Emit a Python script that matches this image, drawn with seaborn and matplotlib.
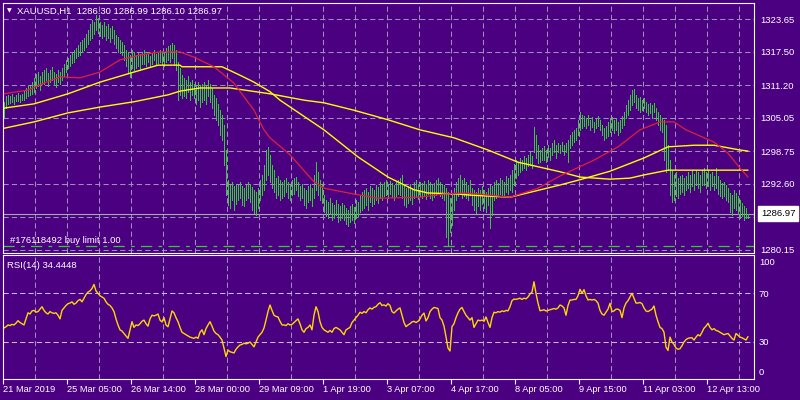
import matplotlib
matplotlib.use("Agg")
import matplotlib.pyplot as plt
import numpy as np
import pandas as pd
import seaborn as sns

# ---------------- data ----------------
bar_high = [
    1308.1,1309.2,1309.4,1309.2,1309.6,1309.0,1309.4,1309.8,1309.4,1309.6,
    1310.3,1310.7,1311.3,1311.1,1311.8,1312.6,1313.3,1313.7,1313.0,1313.7,
    1314.1,1314.5,1313.5,1314.1,1314.7,1313.7,1313.3,1314.1,1313.7,1314.5,
    1315.2,1316.0,1316.4,1316.9,1317.5,1317.9,1318.2,1318.8,1319.4,1319.7,
    1320.1,1320.9,1321.6,1322.8,1323.5,1323.1,1324.5,1323.9,1323.1,1322.6,
    1323.1,1322.4,1322.8,1322.0,1322.4,1321.6,1320.7,1320.3,1319.7,1319.4,
    1318.8,1317.9,1317.5,1316.9,1317.9,1317.5,1316.9,1317.3,1317.1,1317.5,
    1317.9,1317.1,1317.5,1316.7,1317.3,1317.9,1317.1,1317.5,1317.9,1317.3,
    1317.5,1318.2,1318.6,1318.8,1319.2,1318.8,1317.9,1315.6,1314.5,1313.1,
    1312.6,1312.2,1313.0,1311.8,1312.2,1311.5,1311.1,1311.8,1311.3,1311.5,
    1311.8,1311.1,1312.2,1311.5,1310.7,1309.4,1308.8,1307.7,1306.5,1305.6,
    1303.7,1299.0,1293.4,1292.4,1293.0,1292.2,1292.6,1292.4,1293.0,1292.2,
    1291.8,1292.4,1293.0,1292.6,1292.0,1291.5,1291.1,1291.8,1293.4,1294.3,
    1296.2,1299.0,1299.6,1298.1,1296.2,1295.2,1293.7,1294.1,1293.4,1293.0,
    1293.4,1293.7,1293.0,1292.4,1293.4,1293.7,1293.9,1293.0,1292.2,1292.6,
    1291.8,1291.5,1292.2,1292.6,1291.8,1294.3,1296.7,1294.9,1293.4,1292.4,
    1290.5,1289.6,1289.2,1289.9,1289.0,1288.6,1289.6,1288.8,1288.4,1289.0,
    1288.6,1288.1,1287.7,1288.4,1288.8,1288.3,1289.6,1289.2,1290.5,1291.1,
    1291.5,1291.8,1291.1,1292.2,1291.8,1291.5,1292.4,1292.0,1293.0,1292.6,
    1293.0,1293.4,1292.6,1293.2,1292.8,1292.4,1293.0,1293.4,1293.7,1294.3,
    1292.4,1291.8,1292.2,1292.6,1291.8,1293.0,1293.4,1292.6,1293.0,1292.8,
    1293.2,1292.6,1293.4,1293.0,1292.4,1292.8,1293.4,1293.7,1293.0,1292.6,
    1292.4,1291.8,1291.1,1289.9,1290.5,1291.8,1293.0,1293.7,1294.3,1293.4,
    1293.7,1293.0,1292.4,1293.4,1291.8,1291.5,1291.1,1291.8,1291.5,1292.2,
    1291.5,1291.1,1291.8,1292.4,1292.2,1293.0,1293.4,1292.8,1293.7,1293.4,
    1293.0,1294.1,1293.7,1294.3,1295.2,1296.4,1297.1,1296.7,1297.5,1297.1,
    1297.9,1297.5,1298.1,1298.6,1297.9,1303.3,1301.8,1299.9,1299.0,1299.4,
    1299.8,1299.0,1299.9,1299.4,1300.3,1300.9,1299.9,1300.3,1299.9,1300.5,
    1299.9,1300.3,1300.9,1301.8,1302.4,1302.8,1303.1,1304.7,1306.2,1305.6,
    1305.4,1305.0,1305.6,1304.7,1305.2,1304.3,1305.0,1305.4,1304.7,1303.7,
    1303.1,1303.5,1304.3,1305.0,1305.2,1304.7,1305.0,1304.3,1304.7,1305.4,
    1306.2,1307.5,1308.4,1309.4,1310.3,1310.5,1309.4,1308.8,1309.0,1308.4,
    1308.8,1308.1,1307.7,1307.9,1307.5,1307.9,1306.9,1306.2,1305.6,1305.0,
    1304.7,1303.7,1299.9,1297.1,1295.2,1294.3,1294.9,1293.7,1294.1,1294.3,
    1293.7,1294.1,1294.9,1294.3,1295.2,1294.5,1295.2,1294.9,1294.3,1295.2,
    1295.6,1294.9,1295.2,1294.5,1294.9,1294.1,1295.6,1294.1,1293.4,1292.8,
    1293.0,1292.4,1291.8,1290.9,1290.5,1291.5,1290.9,1290.3,1289.6,1289.0,
    1288.4,1288.1,1286.99,
]
bar_low = [
    1305.2,1306.9,1307.7,1307.9,1308.1,1307.7,1308.3,1308.3,1308.1,1308.4,
    1308.4,1308.8,1309.2,1309.4,1309.6,1310.0,1310.7,1311.1,1310.3,1311.5,
    1311.5,1312.2,1311.1,1311.8,1312.2,1311.3,1310.9,1311.8,1311.5,1312.2,
    1313.0,1313.7,1314.5,1314.8,1315.4,1315.6,1316.4,1316.7,1316.9,1317.5,
    1317.9,1318.4,1319.0,1319.7,1320.1,1320.9,1321.6,1321.1,1320.5,1320.1,
    1320.5,1319.7,1320.1,1319.4,1320.1,1319.0,1318.2,1317.5,1317.3,1316.9,
    1316.0,1314.8,1313.7,1312.8,1314.5,1314.1,1314.5,1314.8,1314.1,1315.2,
    1315.2,1314.8,1315.6,1314.7,1315.2,1316.0,1315.0,1315.4,1315.6,1315.2,
    1314.8,1315.6,1316.0,1315.6,1316.4,1315.2,1314.1,1308.4,1309.4,1308.8,
    1309.2,1308.8,1310.0,1308.4,1309.4,1308.8,1307.7,1308.4,1307.1,1308.1,
    1308.4,1307.7,1309.2,1308.1,1306.9,1305.6,1304.7,1303.7,1301.8,1300.9,
    1296.2,1290.5,1288.6,1288.1,1289.6,1287.7,1288.8,1289.6,1289.9,1288.6,
    1288.4,1289.6,1289.9,1289.2,1287.7,1287.1,1286.8,1288.1,1289.6,1290.5,
    1291.5,1293.4,1294.3,1293.0,1291.8,1291.1,1289.9,1290.5,1289.6,1289.9,
    1290.3,1291.1,1289.9,1289.6,1290.5,1290.7,1291.5,1290.3,1289.6,1289.9,
    1288.6,1288.1,1289.2,1289.6,1288.4,1289.9,1291.5,1290.5,1289.6,1289.0,
    1287.3,1286.6,1286.2,1286.9,1285.8,1286.2,1286.8,1285.4,1285.8,1286.2,
    1285.8,1285.0,1284.7,1285.4,1285.8,1285.2,1286.2,1286.6,1287.3,1287.7,
    1288.1,1288.6,1287.7,1289.2,1288.4,1288.8,1289.6,1289.0,1289.9,1289.6,
    1290.3,1290.5,1289.9,1290.7,1290.1,1289.6,1290.3,1290.7,1290.5,1289.9,
    1288.6,1288.3,1289.0,1289.6,1288.8,1289.9,1290.3,1289.8,1290.3,1289.9,
    1290.5,1289.8,1290.7,1289.9,1289.6,1290.1,1290.5,1290.9,1290.3,1289.9,
    1289.6,1282.6,1281.1,1283.5,1284.9,1287.7,1289.6,1290.3,1290.7,1289.9,
    1290.3,1289.9,1289.6,1290.5,1288.6,1287.7,1287.1,1288.4,1287.7,1288.8,
    1288.1,1287.3,1288.6,1284.3,1286.8,1289.6,1289.9,1290.3,1290.7,1290.3,
    1290.5,1291.1,1290.7,1291.5,1291.1,1292.4,1293.7,1294.3,1294.9,1295.2,
    1295.6,1295.2,1296.0,1296.2,1295.6,1298.6,1297.5,1296.6,1296.7,1297.1,
    1297.1,1296.7,1297.7,1297.1,1298.1,1298.6,1297.5,1298.6,1298.4,1299.0,
    1298.1,1298.6,1296.7,1299.4,1299.9,1300.5,1300.9,1301.8,1302.8,1303.1,
    1303.5,1303.1,1303.7,1302.8,1303.3,1302.4,1303.1,1303.5,1302.8,1301.8,
    1300.9,1301.3,1301.7,1302.4,1302.8,1302.2,1302.8,1301.8,1302.4,1303.1,
    1303.7,1305.0,1305.6,1306.5,1307.5,1308.1,1306.9,1306.5,1306.2,1306.5,
    1306.9,1306.2,1305.6,1306.0,1305.0,1306.2,1304.7,1303.7,1302.8,1302.4,
    1297.1,1294.9,1295.2,1290.5,1289.2,1289.6,1290.3,1289.9,1290.7,1291.1,
    1290.5,1291.5,1291.8,1291.1,1292.2,1291.5,1292.4,1291.8,1291.1,1292.4,
    1292.4,1291.8,1292.2,1291.5,1292.2,1291.5,1291.8,1290.7,1290.3,1289.9,
    1290.3,1289.6,1289.2,1287.3,1286.8,1288.1,1287.7,1286.9,1286.2,1286.6,
    1285.8,1286.2,1286.10,
]

red_ma_bar = [0, 12, 20, 28, 38, 48, 58, 68, 78, 88, 95, 105, 115, 125, 130, 133, 143,
              155, 160, 175, 187, 208, 220, 230, 237, 253, 267, 278, 295, 307, 318,
              328, 335, 341, 355, 362, 368, 372]
red_ma_val = [1309.6, 1310.3, 1311.6, 1312.8, 1312.6, 1313.7, 1316.0, 1316.9, 1317.5,
              1317.5, 1316.5, 1314.7, 1311.6, 1306.5, 1302.8, 1301.3, 1298.1, 1293.0,
              1291.8, 1290.7, 1289.9, 1290.1, 1290.7, 1290.9, 1290.7, 1290.1, 1291.8,
              1294.1, 1297.1, 1299.6, 1302.8, 1304.3, 1304.3, 1302.8, 1300.5, 1298.4,
              1295.6, 1293.9]

fast_ma_bar = [0, 15, 32, 48, 65, 77, 88, 89, 109, 118, 125, 133, 138, 160, 177, 192,
               205, 212, 227, 233, 253, 278, 288, 303, 320, 332, 345, 355, 368, 372]
fast_ma_val = [1306.9, 1307.7, 1309.6, 1311.8, 1313.7, 1315.0, 1315.0, 1314.7, 1314.7,
               1313.1, 1311.8, 1310.0, 1308.4, 1302.8, 1297.7, 1293.9, 1291.5, 1290.9,
               1290.7, 1290.5, 1290.1, 1292.4, 1293.4, 1295.0, 1297.5, 1299.6, 1299.9,
               1299.9, 1299.0, 1298.8]

slow_ma_bar = [0, 15, 32, 48, 65, 82, 88, 98, 113, 133, 150, 160, 175, 192, 208, 225,
               242, 257, 278, 288, 303, 313, 320, 332, 372]
slow_ma_val = [1303.1, 1304.3, 1306.0, 1307.1, 1308.1, 1309.4, 1310.1, 1310.7, 1310.7,
               1309.6, 1308.4, 1307.9, 1306.5, 1304.7, 1302.8, 1301.3, 1299.0, 1296.7,
               1294.9, 1293.9, 1293.5, 1293.7, 1294.3, 1295.2, 1295.2]

rsi_values = [
    41.5,42.5,44,43.5,44.5,44,45.5,47.5,46,45,
    44,49,54,53,55.5,56,54.5,55,57,59,
    56,54,53,55,54,53.5,54,52,49,56,
    58,60,61.5,62,63,61,62,64,65,63,
    66,69,71,72,74,77.3,72,70,68,67,
    66,63,61,60,58,55,49,44,40,39,
    37,35,33,40,46.7,42,44,43.5,45,47,
    48,45,43,49,52,51.5,52,53,48,46.5,
    50,44,42.5,49,55.5,54,50,46.7,42,38,
    37,36,35,34,33.5,33,34,33,38,40,
    36,41,44,46.7,43,39,37,36,34,31.6,
    25,18,23.4,22,21.5,21,24,26,27.5,28,
    29,28.5,29,30,28,26,30,34,36,38,
    41.5,48,55,60.4,56,52,51,50.6,47,44,
    44,43.5,45,44,44.5,46,47.5,49,45,40,
    38,41,42,44,40,52,59,55,46.7,42,
    40,39,38,39.5,38,41,42,41,40,38,
    36,40,41,42,46,48,50,52,54.5,53.5,
    55,54,56.5,58,57,58.5,59,61,62.3,60,
    60.5,59.5,61.5,60,55,53.8,55.5,57,58,52,
    46,42.6,44,45,46.5,47,46,47,49,52,
    53.8,47.3,50,55,57,58.4,58,57.5,50,48,
    43,34.3,25,22.6,42.6,45,50,54,57,58.4,
    55,52,50,48,50,42,45,48,47.5,48,
    47,50.6,46,42,50,54.5,54,55,54.5,55.6,
    55,56,55.6,59,64,65.3,65,65.5,66,65,
    66,65.5,67,69.4,71,79.5,70,62,55.7,56,
    56.5,55.5,56,56.5,57,57.5,57,58,60.4,59.6,
    58,52,60,64.5,64.5,65,65,68,73.3,70,
    73,68,64.5,65,64.5,65,64,62,56,53,
    52,54.5,57,61.8,55,55.5,57,57,56,50,
    58,62,64,67,70,66,62,62,62.5,61.5,
    58,55.5,55,56,57,59.6,52,46.7,42,41,
    38,25.8,23,34,30,28,25,24,24.5,27,
    30,32,33,33.4,33.5,31.6,34,36,35,38,
    41.3,43,45.4,42,40,41,39.5,39,38,37,
    36,36.5,37,35,33,31.6,37,35.5,34,33.5,
    32.5,31.6,34.4448,
]

price_levels = [1323.65, 1317.50, 1311.20, 1305.05, 1298.75, 1292.60, 1286.45, 1280.15]
price_labels = ["1323.65", "1317.50", "1311.20", "1305.05", "1298.75", "1292.60", "", "1280.15"]
time_labels = ["21 Mar 2019", "25 Mar 05:00", "26 Mar 14:00", "28 Mar 00:00",
               "29 Mar 09:00", "1 Apr 19:00", "3 Apr 07:00", "4 Apr 17:00",
               "8 Apr 05:00", "9 Apr 15:00", "11 Apr 03:00", "12 Apr 13:00"]
symbol = "XAUUSD,H1"
ohlc = [1286.30, 1286.99, 1286.10, 1286.97]
last_price = 1286.97
order_price = 1280.9
order_text = "#176118492 buy limit 1.00"
rsi_last = 34.4448

# ---------------- style ----------------
BG = "#4B0082"
GREEN = "#32CD32"
GRID = "#9A90B8"
LEVEL = "#C4BCDC"
sns.set_style("dark", {"axes.facecolor": BG, "figure.facecolor": BG})
plt.rcParams["font.family"] = ["Liberation Sans", "DejaVu Sans"]

W, H = 800, 400
def box(l, t, r, b):
    return [l / W, 1 - b / H, (r - l) / W, (b - t) / H]

fig = plt.figure(figsize=(8, 4), dpi=100, facecolor=BG)
ax = fig.add_axes(box(3, 3, 754, 253))
ax2 = fig.add_axes(box(3, 255, 754, 378.5))

bars = pd.DataFrame({"bar": np.arange(len(bar_high)), "high": bar_high, "low": bar_low})
ax.vlines(bars["bar"], bars["low"], bars["high"], colors=GREEN, linewidth=0.7,
          antialiased=False, zorder=2)

sns.lineplot(x=slow_ma_bar, y=slow_ma_val, ax=ax, color="#FFFF00", linewidth=1.0, zorder=3)
sns.lineplot(x=fast_ma_bar, y=fast_ma_val, ax=ax, color="#FFFF00", linewidth=1.0, zorder=3)
sns.lineplot(x=red_ma_bar, y=red_ma_val, ax=ax, color="#E0203C", linewidth=0.9, zorder=4)

ax.axhline(last_price, color="#A8A8A8", linewidth=0.8, zorder=1.5)
ax.axhline(order_price, color=GREEN, linewidth=0.9, linestyle=(0, (9, 5, 3, 5)), zorder=1.5)

rsi_df = pd.DataFrame({"bar": np.arange(len(rsi_values)), "rsi": rsi_values})
sns.lineplot(data=rsi_df, x="bar", y="rsi", ax=ax2, color="#FFD700", linewidth=1.0)

n_view = 375
grid_x = [-0.5 + 16 * k for k in range(1, 24)]
label_x = [-0.5 + 32 * k for k in range(len(time_labels))]

for a in (ax, ax2):
    a.set_facecolor(BG)
    a.set_xlim(-0.5, n_view)
    a.set_xlabel("")
    a.set_ylabel("")
    for s in a.spines.values():
        s.set_visible(True)
        s.set_color("white")
        s.set_linewidth(0.8)

# main panel axes
ax.set_ylim(1279.58, 1326.72)
ax.set_xticks(grid_x)
ax.set_xticklabels([])
ax.set_yticks(price_levels)
ax.set_yticklabels(price_labels)
ax.yaxis.tick_right()
ax.tick_params(axis="x", length=0)
ax.tick_params(axis="y", length=0, pad=4.3, labelsize=6.8, labelcolor="white")
ax.grid(True, color=GRID, linestyle=(0, (5, 3)), linewidth=0.75)

# RSI panel axes
ax2.set_ylim(0, 101.5)
ax2.set_yticks([70, 30])
ax2.set_yticklabels(["70", "30"])
ax2.yaxis.tick_right()
ax2.tick_params(axis="y", length=0, pad=3.5, labelsize=6.8, labelcolor="white")
ax2.set_xticks(label_x)
ax2.set_xticklabels(time_labels)
ax2.set_xticks(grid_x, minor=True)
ax2.tick_params(axis="x", which="major", bottom=True, direction="out", length=3.5,
                width=0.8, color="white", labelcolor="white", labelsize=6.7, pad=1.5)
ax2.tick_params(axis="x", which="minor", length=0)
for lbl in ax2.get_xticklabels():
    lbl.set_horizontalalignment("left")
ax2.xaxis.grid(True, which="minor", color=GRID, linestyle=(0, (5, 3)), linewidth=0.75)
ax2.xaxis.grid(False, which="major")
ax2.yaxis.grid(True, which="major", color=LEVEL, linestyle=(0, (5, 3)), linewidth=0.75)
ytr = ax2.get_yaxis_transform()
ax2.annotate("100", xy=(1, 100), xycoords=ytr, xytext=(5, -6), textcoords="offset pixels",
             ha="left", va="center", color="white", fontsize=6.8)
ax2.annotate("0", xy=(1, 0), xycoords=ytr, xytext=(5, 6), textcoords="offset pixels",
             ha="left", va="center", color="white", fontsize=6.8)

# texts
ax.annotate(f"{last_price:.2f}", xy=(1, last_price), xycoords=ax.get_yaxis_transform(),
            xytext=(7, 0), textcoords="offset pixels", ha="left", va="center",
            color="black", fontsize=6.8,
            bbox=dict(boxstyle="square,pad=0.3", fc="white", ec="white"))
ax.annotate(order_text, xy=(0, order_price), xycoords=ax.get_yaxis_transform(),
            xytext=(7, 5.5), textcoords="offset pixels", ha="left", va="center",
            color="white", fontsize=6.8)
fig.text(7 / W, 1 - 11 / H, "\u25BC", color="white", fontsize=4.5, va="center", ha="left",
         family="DejaVu Sans")
fig.text(17 / W, 1 - 11 / H, f"{symbol}  " + " ".join(f"{v:.2f}" for v in ohlc),
         color="white", fontsize=6.8, va="center", ha="left")
ax2.annotate(f"RSI(14) {rsi_last}", xy=(0, 1), xycoords="axes fraction", xytext=(4, -10),
             textcoords="offset pixels", ha="left", va="center", color="white", fontsize=6.8)

fig.savefig("out.png", dpi=100, facecolor=BG)
